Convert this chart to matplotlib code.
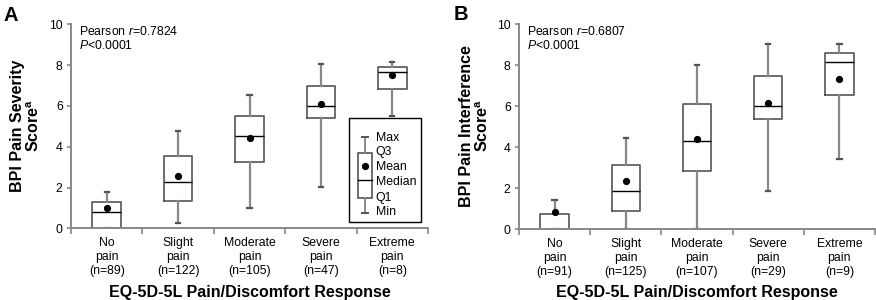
import matplotlib
matplotlib.use("Agg")
import matplotlib.pyplot as plt
from matplotlib.patches import Rectangle

plt.rcParams['font.family'] = ['Liberation Sans', 'DejaVu Sans']
plt.rcParams['mathtext.fontset'] = 'custom'
plt.rcParams['mathtext.rm'] = 'Liberation Sans'
plt.rcParams['mathtext.it'] = 'Liberation Sans:italic'
plt.rcParams['mathtext.bf'] = 'Liberation Sans:bold'

categories = ["No\npain", "Slight\npain", "Moderate\npain", "Severe\npain", "Extreme\npain"]
n_a = [89, 122, 105, 47, 8]
n_b = [91, 125, 107, 29, 9]

# Panel A: BPI Pain Severity
a_min = [0.0, 0.26, 1.01, 2.01, 5.52]
a_q1 = [0.0, 1.32, 3.27, 5.39, 6.83]
a_med = [0.78, 2.27, 4.51, 6.01, 7.65]
a_q3 = [1.27, 3.53, 5.52, 6.99, 7.89]
a_max = [1.76, 4.77, 6.52, 8.04, 8.15]
a_mean = [1.01, 2.58, 4.41, 6.11, 7.52]

# Panel B: BPI Pain Interference
b_min = [0.0, 0.0, 0.0, 1.87, 3.43]
b_q1 = [0.0, 0.88, 2.86, 5.37, 6.57]
b_med = [0.0, 1.87, 4.29, 6.0, 8.15]
b_q3 = [0.73, 3.15, 6.13, 7.5, 8.59]
b_max = [1.45, 4.46, 8.0, 9.02, 9.02]
b_mean = [0.85, 2.37, 4.42, 6.18, 7.33]

BOXC = '#555555'
WHC = '#888888'
FS = 8.8


def draw_panel(ax, mins, q1s, meds, q3s, maxs, means, ns, rtext):
    stats = []
    for i in range(len(categories)):
        stats.append(dict(whislo=mins[i], q1=q1s[i], med=meds[i], q3=q3s[i],
                          whishi=maxs[i], mean=means[i], fliers=[]))
    ax.bxp(stats, positions=list(range(len(categories))), widths=0.4,
           showmeans=True, showfliers=False, patch_artist=False,
           boxprops=dict(color=BOXC, linewidth=1.2),
           medianprops=dict(color='black', linewidth=1.0),
           whiskerprops=dict(color=WHC, linewidth=1.6),
           capprops=dict(color='#555555', linewidth=1.6),
           capwidths=0.06,
           meanprops=dict(marker='o', markerfacecolor='black', markeredgecolor='black',
                          markersize=4.2))
    ax.set_xlim(-0.5, 4.5)
    ax.set_ylim(0, 10)
    ax.set_yticks([0, 2, 4, 6, 8, 10])
    ax.set_xticks(range(len(categories)))
    ax.set_xticklabels([f"{c}\n(n={n})" for c, n in zip(categories, ns)], fontsize=FS,
                       linespacing=1.22)
    ax.set_xticks([-0.5, 0.5, 1.5, 2.5, 3.5, 4.5], minor=True)
    ax.tick_params(axis='x', which='major', length=0, pad=6)
    ax.tick_params(axis='x', which='minor', length=4, color=WHC, width=1.2)
    ax.tick_params(axis='y', length=3, color=WHC, width=1.2, labelsize=FS, pad=3)
    for s in ['top', 'right']:
        ax.spines[s].set_visible(False)
    for s in ['left', 'bottom']:
        ax.spines[s].set_color(WHC)
        ax.spines[s].set_linewidth(1.4)
    ax.text(0.022, 0.964, "Pearson $r$=" + rtext, transform=ax.transAxes,
            ha='left', va='center', fontsize=FS)
    ax.text(0.022, 0.8985, "$P$<0.0001", transform=ax.transAxes,
            ha='left', va='center', fontsize=FS)


W, H = 876.0, 300.0
fig = plt.figure(figsize=(8.76, 3.0), dpi=100)
axA = fig.add_axes([71 / W, 1 - 228.3 / H, 357 / W, 204 / H])
axB = fig.add_axes([519 / W, 1 - 229.3 / H, 356 / W, 205 / H])

draw_panel(axA, a_min, a_q1, a_med, a_q3, a_max, a_mean, n_a, "0.7824")
draw_panel(axB, b_min, b_q1, b_med, b_q3, b_max, b_mean, n_b, "0.6807")

# panel letters
fig.text(3 / W, 1 - 21 / H, "A", fontsize=14.5, fontweight='bold', ha='left', va='baseline')
fig.text(454 / W, 1 - 19.5 / H, "B", fontsize=14.5, fontweight='bold', ha='left', va='baseline')

# y labels
fig.text(26 / W, 1 - 126 / H, "BPI Pain Severity\nScore$^{\\mathbf{a}}$", rotation=90,
         ha='center', va='center', fontsize=11.5, fontweight='bold', linespacing=1.05,
         multialignment='center')
fig.text(475 / W, 1 - 126 / H, "BPI Pain Interference\nScore$^{\\mathbf{a}}$", rotation=90,
         ha='center', va='center', fontsize=11.5, fontweight='bold', linespacing=1.05,
         multialignment='center')

# x labels
for ax in (axA, axB):
    pos = ax.get_position()
    fig.text((pos.x0 + pos.x1) / 2, 1 - 293 / H, "EQ-5D-5L Pain/Discomfort Response",
             ha='center', va='center', fontsize=11.5, fontweight='bold')

# key box in panel A
t = axA.transAxes
axA.add_patch(Rectangle((0.779, 0.032), 0.202, 0.51, transform=t, fill=False,
                        edgecolor='black', linewidth=1.0))
cx, bw = 0.8235, 0.0375
axA.add_patch(Rectangle((cx - bw / 2, 0.15), bw, 0.2206, transform=t, fill=False,
                        edgecolor=BOXC, linewidth=1.2))
axA.plot([cx, cx], [0.3706, 0.4475], transform=t, color=WHC, lw=1.4)
axA.plot([cx, cx], [0.0735, 0.15], transform=t, color=WHC, lw=1.4)
axA.plot([cx - 0.008, cx + 0.008], [0.4475, 0.4475], transform=t, color='#555555', lw=1.4)
axA.plot([cx - 0.008, cx + 0.008], [0.0735, 0.0735], transform=t, color='#555555', lw=1.4)
axA.plot([cx - bw / 2, cx + bw / 2], [0.235, 0.235], transform=t, color='black', lw=1.0)
axA.plot([cx], [0.307], transform=t, marker='o', color='black', markersize=4.2)
for lab, yy in [("Max", 0.442), ("Q3", 0.373), ("Mean", 0.302), ("Median", 0.229),
                ("Q1", 0.15), ("Min", 0.082)]:
    axA.text(0.8535, yy, lab, transform=t, fontsize=FS, ha='left', va='center')

fig.savefig("out.png", dpi=100)
